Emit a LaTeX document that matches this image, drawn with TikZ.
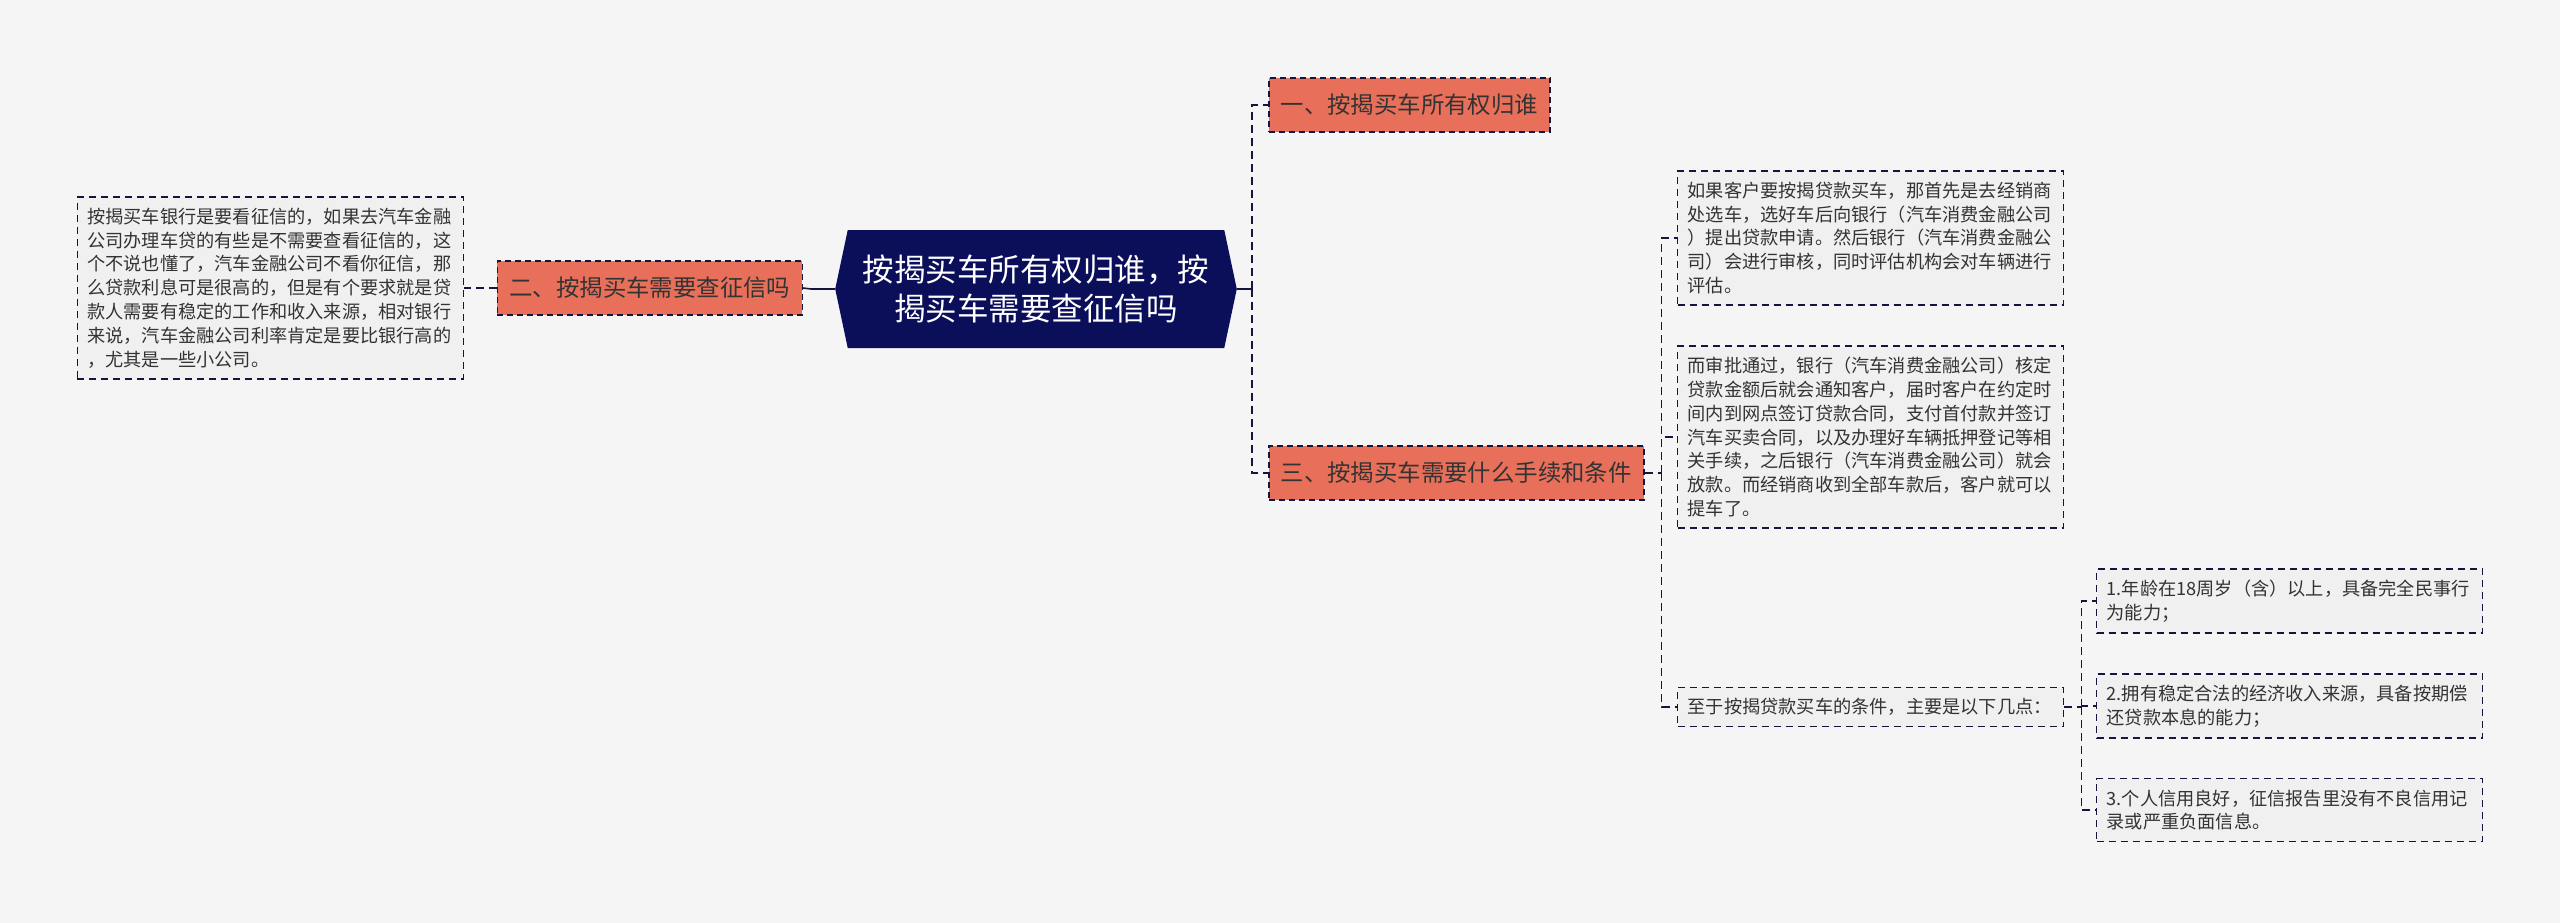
\documentclass[tikz,border=0pt]{standalone}
\usepackage{fontspec}
\setmainfont{Noto Sans CJK SC}
\usetikzlibrary{shapes.symbols}
\definecolor{bgcol}{HTML}{F5F5F5}
\definecolor{rootcol}{HTML}{0B0F5A}
\definecolor{topiccol}{HTML}{E86F5A}
\definecolor{linecol}{HTML}{14163F}
\definecolor{leafcol}{HTML}{F0F0F0}
\definecolor{txtcol}{HTML}{333333}
\begin{document}
\begin{tikzpicture}[x=1pt,y=-1pt,
  topic/.style={draw=linecol,dash pattern=on 6pt off 4pt,line width=1.5pt,fill=topiccol,text=txtcol,
    inner xsep=12pt,minimum height=54pt,font=\fontsize{23.4}{28}\selectfont},
  leaf/.style={draw=linecol,dash pattern=on 7pt off 5pt,line width=1.4pt,fill=leafcol,text=txtcol,
    align=left,text width=366pt,inner xsep=10pt,inner ysep=11pt,font=\fontsize{18.2}{23.8}\selectfont},
  link/.style={linecol,dash pattern=on 8pt off 5pt,line width=1.6pt}]
\path[use as bounding box,fill=bgcol] (0,0) rectangle (2560,923);

% root
\node[shape=signal,signal to=west and east,signal pointer angle=156,fill=rootcol,text=white,
  align=center,minimum height=118pt,inner xsep=15pt,font=\fontsize{31.5}{39}\selectfont]
  (root) at (1036,289) {按揭买车所有权归谁，按\\揭买车需要查征信吗};

% topics
\node[topic,anchor=west] (t1) at (1268,105) {一、按揭买车所有权归谁};
\node[topic,anchor=east] (t2) at (803,288) {二、按揭买车需要查征信吗};
\node[topic,anchor=west] (t3) at (1268,473) {三、按揭买车需要什么手续和条件};

% leaves
\node[leaf,anchor=east] (lf) at (464,288) {按揭买车银行是要看征信的，如果去汽车金融\\公司办理车贷的有些是不需要查看征信的，这\\个不说也懂了，汽车金融公司不看你征信，那\\么贷款利息可是很高的，但是有个要求就是贷\\款人需要有稳定的工作和收入来源，相对银行\\来说，汽车金融公司利率肯定是要比银行高的\\，尤其是一些小公司。};
\node[leaf,anchor=west] (r1) at (1677,238) {如果客户要按揭贷款买车，那首先是去经销商\\处选车，选好车后向银行（汽车消费金融公司\\）提出贷款申请。然后银行（汽车消费金融公\\司）会进行审核，同时评估机构会对车辆进行\\评估。};
\node[leaf,anchor=west] (r2) at (1677,437) {而审批通过，银行（汽车消费金融公司）核定\\贷款金额后就会通知客户，届时客户在约定时\\间内到网点签订贷款合同，支付首付款并签订\\汽车买卖合同，以及办理好车辆抵押登记等相\\关手续，之后银行（汽车消费金融公司）就会\\放款。而经销商收到全部车款后，客户就可以\\提车了。};
\node[leaf,anchor=west] (r3) at (1677,707) {至于按揭贷款买车的条件，主要是以下几点：};
\node[leaf,anchor=west] (s1) at (2096,601) {1.年龄在18周岁（含）以上，具备完全民事行\\为能力；};
\node[leaf,anchor=west] (s2) at (2096,706) {2.拥有稳定合法的经济收入来源，具备按期偿\\还贷款本息的能力；};
\node[leaf,anchor=west] (s3) at (2096,810) {3.个人信用良好，征信报告里没有不良信用记\\录或严重负面信息。};

% connectors
\coordinate (rj) at ([xshift=15pt]root.east);
\coordinate (lj) at ([xshift=-24pt]root.west);
\coordinate (j3) at ([xshift=17pt]t3.east);
\coordinate (j4) at ([xshift=17pt]r3.east);
\draw[linecol,line width=1.6pt] (root.east) -- (rj);
\draw[linecol,line width=1.6pt] (root.west) -- (lj);
\draw[link] (rj) |- (t1.west);
\draw[link] (rj) |- (t3.west);
\draw[link] (lj) -- (t2.east);
\draw[link] (t2.west) -- (lf.east);
\draw[link] (t3.east) -- (j3);
\draw[link] (j3) |- (r1.west);
\draw[link] (j3) |- (r2.west);
\draw[link] (j3) |- (r3.west);
\draw[link] (r3.east) -- (j4);
\draw[link] (j4) |- (s1.west);
\draw[link] (j4) |- (s2.west);
\draw[link] (j4) |- (s3.west);
\end{tikzpicture}
\end{document}
